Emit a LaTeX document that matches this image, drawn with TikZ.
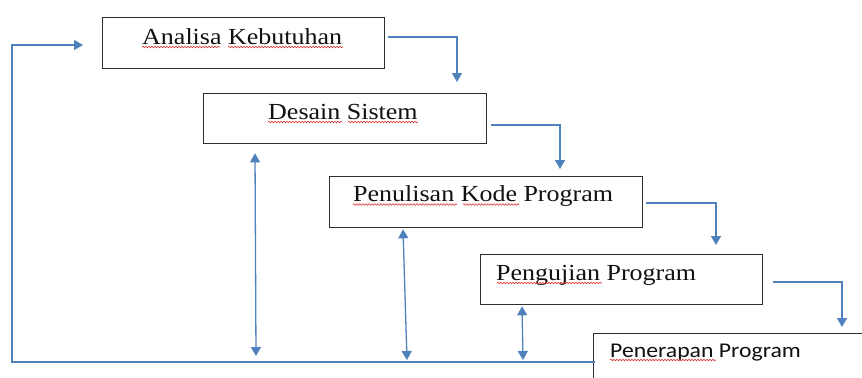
\documentclass[tikz,border=0pt]{standalone}
\usepackage{fontspec}
\newfontfamily\serifA[FakeStretch=1.13]{Liberation Serif}
\newfontfamily\sansA[FakeStretch=1.13]{Carlito}
\usetikzlibrary{arrows.meta,decorations.pathmorphing,calc}
\definecolor{lineblue}{HTML}{4F81BD}
\definecolor{boxgray}{HTML}{2E2E2E}
\definecolor{txt}{HTML}{111111}
\definecolor{squigred}{HTML}{E03030}
\begin{document}
\begin{tikzpicture}[x=1bp,y=-1bp,
  box/.style={draw=boxgray,line width=1.3bp,rectangle,inner sep=0pt,anchor=north west},
  lbl/.style={anchor=base west,inner sep=0pt,text=txt,font=\serifA\fontsize{23bp}{27bp}\selectfont},
  lblsans/.style={anchor=base west,inner sep=0pt,text=txt,font=\sansA\fontsize{21bp}{25bp}\selectfont},
  flow/.style={draw=lineblue,line width=1.3bp,-{Triangle[width=10bp,length=9bp]}},
  both/.style={draw=lineblue,line width=1.3bp,{Triangle[width=10bp,length=9bp]}-{Triangle[width=10bp,length=9bp]}},
  squig/.style={draw=squigred,line width=0.6bp,decorate,decoration={snake,amplitude=0.8bp,segment length=3bp}}]
\useasboundingbox (0,0) rectangle (862,377);
\clip (0,0) rectangle (862,377);
\fill[white] (0,0) rectangle (862,377);

% boxes
\node[box,minimum width=282bp,minimum height=51bp] (b1) at (102,17) {};
\node[box,minimum width=283bp,minimum height=50bp] (b2) at (203,93) {};
\node[box,minimum width=313bp,minimum height=51bp] (b3) at (329,176) {};
\node[box,minimum width=282bp,minimum height=50bp] (b4) at (480,254) {};
\node[box,minimum width=320bp,minimum height=80bp] (b5) at (593,333) {};

% labels
\node[lbl] (t1) at (142,44) {Analisa Kebutuhan};
\node[lbl] (t2) at (268,119) {Desain Sistem};
\node[lbl] (t3) at (353,201) {Penulisan Kode Program};
\node[lbl] (t4) at (496,280) {Pengujian Program};
\node[lblsans] (t5) at (610,357) {Penerapan Program};

% spell-check squiggles
\draw[squig] (142,47) -- (220,47);
\draw[squig] (228,47) -- (343,47);
\draw[squig] (268,122) -- (342,122);
\draw[squig] (348,122) -- (418,122);
\draw[squig] (353,204.5) -- (457,204.5);
\draw[squig] (463,204.5) -- (519,204.5);
\draw[squig] (497,283) -- (602,283);
\draw[squig] (610,360) -- (716,360);

% step connectors
\draw[flow] ($(b1.north east)+(3,20)$) -| ($(b2.north west)+(254,-11)$);
\draw[flow] ($(b2.north east)+(4,32)$) -| ($(b3.north west)+(231,-7)$);
\draw[flow] ($(b3.north east)+(3,27)$) -| ($(b4.north west)+(236,-9)$);
\draw[flow] ($(b4.north east)+(10,28)$) -| ($(b5.north west)+(249,-6)$);

% feedback loop
\coordinate (loopstart) at ($(b5.north west)+(2,29)$);
\coordinate (loopleft) at (12,362);
\draw[flow] (loopstart) -- (loopleft) -- (12,45) -- ($(b1.north west)+(-19,28)$);

% double arrows
\draw[both] ($(b2.south west)+(52,9)$) -- (256,356);
\draw[both] ($(b3.south west)+(74,1)$) -- (407,360);
\draw[both] ($(b4.south west)+(42,1)$) -- (523,360);
\end{tikzpicture}
\end{document}
